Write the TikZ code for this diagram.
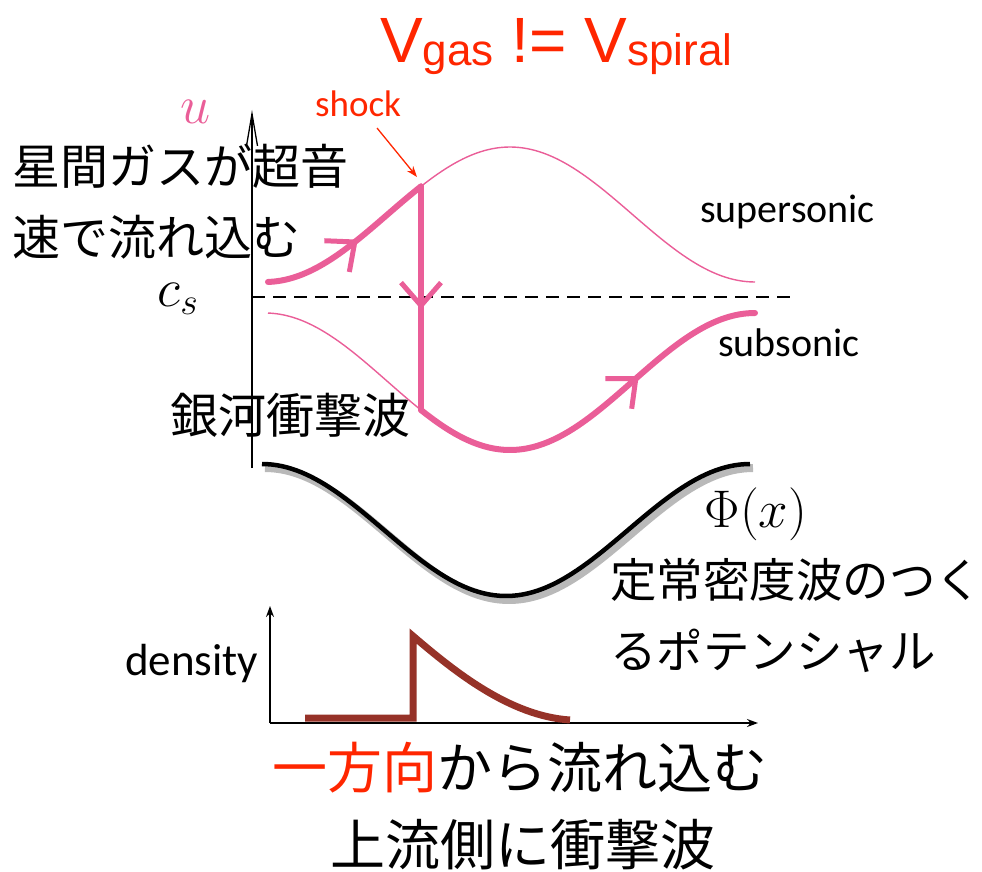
\documentclass[tikz,border=0pt]{standalone}
\usepackage{fix-cm}
\usepackage{fontspec}
\setmainfont{Carlito}
\newfontfamily\jp{Noto Sans CJK JP}
\newfontfamily\titlefont{Liberation Sans}
\usetikzlibrary{arrows.meta,decorations.markings}
\definecolor{upink}{RGB}{234,94,152}
\definecolor{titlered}{RGB}{255,38,0}
\definecolor{densred}{RGB}{150,50,40}
\definecolor{shadowgray}{RGB}{185,185,185}
\tikzset{
  chev/.tip={Straight Barb[length=23pt,width=40pt]},
  txt/.style={inner sep=0pt},
  jptxt/.style={inner sep=0pt, anchor=west, font=\jp\fontsize{48}{48}\selectfont},
  jpbig/.style={inner sep=0pt, anchor=west, font=\jp\fontsize{55}{55}\selectfont},
  lattxt/.style={inner sep=0pt, anchor=base west, font=\fontsize{40}{40}\selectfont},
  thinpink/.style={draw=upink, line width=1.4pt},
  thickpink/.style={draw=upink, line width=6pt, line cap=round, line join=round},
  midarrow/.style={postaction={decorate}, decoration={markings, mark=at position #1 with {\arrow[upink,line width=5pt]{chev}}}},
  axisline/.style={draw=black, line width=1.8pt},
}
\begin{document}
\begin{tikzpicture}[x=1pt,y=-1pt]
\useasboundingbox (0,0) rectangle (982,872);

% title
\node[txt, anchor=base west, text=titlered, font=\titlefont\fontsize{64}{64}\selectfont] (title) at (380,63)
  {V\raisebox{-3pt}{\fontsize{44}{44}\selectfont gas} != V\raisebox{-3pt}{\fontsize{44}{44}\selectfont spiral}};

% u axis
\coordinate (uaxb) at (252,468);
\coordinate (uaxt) at (252,110);
\draw[axisline, -{Straight Barb[length=32pt,width=11pt,line width=1.3pt]}] (uaxb) -- (uaxt);
\node[txt, text=upink, font=\fontsize{54}{54}\selectfont] (ulab) at (196,112) {$u$};
\node[txt, font=\fontsize{54}{54}\selectfont] (cslab) at (178,299) {$c_s$};

% sound speed line
\coordinate (csL) at (252,297);
\coordinate (csR) at (792,297);
\draw[line width=2pt, dash pattern=on 13pt off 8pt] (csL) -- (csR);

% thin branches
\draw[thinpink] plot[domain=421:755, samples=80] (\x,{214.5-67.5*cos(0.734694*(\x-510))});
\draw[thinpink] plot[domain=268:421, samples=50] (\x,{381.5+68.5*cos(0.734694*(\x-510))});

% thick path with shock
\coordinate (sTop) at (421,186.4);
\coordinate (sBot) at (421,410);
\draw[thickpink, midarrow=0.55] plot[domain=268:421, samples=50] (\x,{214.5-67.5*cos(0.734694*(\x-510))});
\draw[thickpink, midarrow=0.55] (sTop) -- (sBot);
\draw[thickpink, midarrow=0.65] plot[domain=421:755, samples=90] (\x,{381.5+68.5*cos(0.734694*(\x-510))});

% shock label
\node[lattxt, text=titlered, font=\fontsize{37}{37}\selectfont] (shock) at (315,117) {shock};
\coordinate (shockA) at (377,128);
\coordinate (shockB) at (417,177);
\draw[titlered, line width=1.3pt, -{Stealth[length=11pt,width=8pt]}] (shockA) -- (shockB);

\node[lattxt] (super) at (700,222) {supersonic};
\node[lattxt] (sub) at (718,356) {subsonic};

% Japanese labels
\node[jptxt] (j1) at (12,166) {星間ガスが超音};
\node[jptxt] (j2) at (12,237) {速で流れ込む};
\node[jptxt] (j3) at (170,415) {銀河衝撃波};

% potential
\draw[shadowgray, line width=8pt] plot[domain=262:750, samples=100] ({\x+3},{534-66*cos(0.737705*(\x-262))});
\draw[black, line width=4.5pt] plot[domain=262:750, samples=100] (\x,{530-66*cos(0.737705*(\x-262))});
\node[txt, font=\fontsize{53}{53}\selectfont] (phi) at (756,514) {$\Phi(x)$};
\node[jptxt, font=\jp\fontsize{46.5}{46.5}\selectfont] (j4) at (610,580) {定常密度波のつく};
\node[jptxt, font=\jp\fontsize{46.5}{46.5}\selectfont] (j5) at (610,651) {るポテンシャル};

% density plot
\coordinate (dO) at (270,723);
\coordinate (dT) at (270,606);
\coordinate (dR) at (758,723);
\draw[line width=1.5pt, -{Stealth[length=11pt,width=8pt]}] (dO) -- (dT);
\draw[line width=1.5pt, -{Stealth[length=11pt,width=8pt]}] (dO) -- (dR);
\coordinate (d1) at (305,718);
\coordinate (d2) at (413,718);
\coordinate (d3) at (413,636);
\coordinate (d4) at (570,720);
\draw[densred, line width=7pt, line join=miter] (d1) -- (d2) -- (d3) .. controls (455,672) and (510,716) .. (d4);
\node[lattxt, font=\fontsize{45}{45}\selectfont] (dens) at (125,675) {density};

% bottom texts
\node[jpbig] (b1) at (272,768) {\textcolor{titlered}{一方向}から流れ込む};
\node[jpbig] (b2) at (330,845) {上流側に衝撃波};
\end{tikzpicture}
\end{document}
